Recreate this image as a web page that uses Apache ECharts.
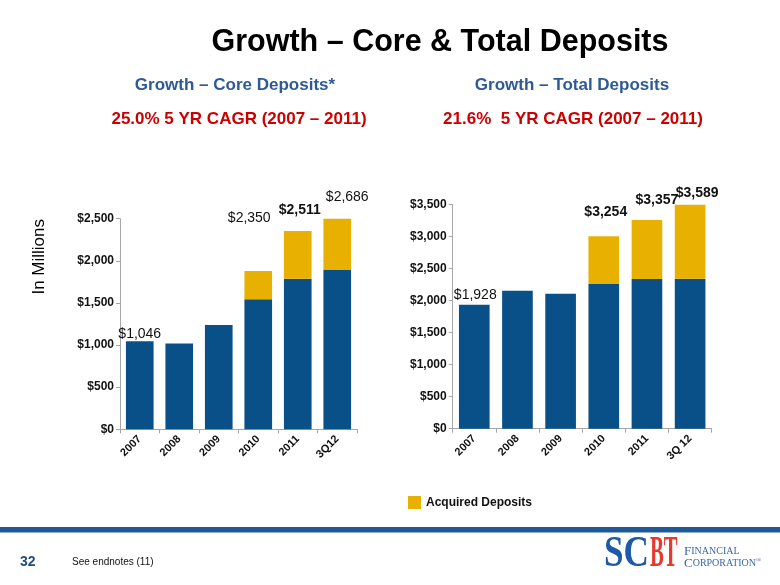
<!DOCTYPE html>
<html>
<head>
<meta charset="utf-8">
<script src="https://cdn.jsdelivr.net/npm/echarts@6/dist/echarts.min.js"></script>
<style>
html,body{margin:0;padding:0;background:#fff;}
#c{width:780px;height:585px;}
</style>
</head>
<body>
<div id="c"></div>
<script>
// ---- data ----
var coreCats = ['2007', '2008', '2009', '2010', '2011', '3Q12'];
var coreBase = [1046, 1020, 1238, 1543, 1788, 1891];
var coreAcquired = [0, 0, 0, 336, 566, 609];
var coreLabels = ['$1,046', '', '', '$2,350', '$2,511', '$2,686'];

var totalCats = ['2007', '2008', '2009', '2010', '2011', '3Q 12'];
var totalBase = [1937, 2156, 2109, 2261, 2339, 2344];
var totalAcquired = [0, 0, 0, 745, 922, 1156];
var totalLabels = ['$1,928', '', '', '$3,254', '$3,357', '$3,589'];

var coreTicks = [0, 500, 1000, 1500, 2000, 2500];
var totalTicks = [0, 500, 1000, 1500, 2000, 2500, 3000, 3500];

// ---- styles ----
var BLUE = '#0A5088', GOLD = '#E8B000';
var FONT = 'Liberation Sans, Arial, sans-serif';
var SERIF = 'Liberation Serif, serif';

function money(v){ return '$' + v.toLocaleString('en-US'); }

// label styles per bar: [dx, dy, bold]
var coreLblStyle = [[0, 0, false], null, null, [-9, -46, false], [2, -14, true], [10, -15, false]];
var totalLblStyle = [[1, -3, false], null, null, [2, -17, true], [10, -13, true], [7, -5, true]];

function buildItems(vals, labels, styles, onlyIfZeroAcq, acq) {
  return vals.map(function(v, i){
    var st = styles[i];
    var show = !!labels[i] && (onlyIfZeroAcq ? acq[i] === 0 : acq[i] > 0);
    var item = { value: v };
    if (show) {
      item.label = {
        show: true, position: 'top', distance: 0,
        offset: [st[0], st[1]],
        formatter: labels[i],
        fontSize: 14, fontFamily: FONT, color: '#111',
        fontWeight: st[2] ? 'bold' : 'normal'
      };
    }
    return item;
  });
}

function yAxis(gi, ticks) {
  return {
    type: 'value', gridIndex: gi, min: 0, max: ticks[ticks.length - 1], interval: 500,
    splitLine: { show: false },
    axisLine: { show: true, lineStyle: { color: '#A6A6A6' } },
    axisTick: { show: true, length: 4, lineStyle: { color: '#A6A6A6' } },
    axisLabel: { margin: 6, fontSize: 12, fontWeight: 'bold', color: '#111', fontFamily: FONT,
      formatter: function(v){ return money(v); } }
  };
}
function xAxis(gi, cats) {
  return {
    type: 'category', gridIndex: gi, data: cats,
    axisLine: { show: true, lineStyle: { color: '#A6A6A6' } },
    axisTick: { show: true, length: 4, alignWithLabel: false, lineStyle: { color: '#A6A6A6' } },
    axisLabel: { rotate: 45, margin: 8, fontSize: 11, fontWeight: 'bold', color: '#111', fontFamily: FONT, interval: 0 }
  };
}

var chart = echarts.init(document.getElementById('c'), null, { renderer: 'canvas' });
chart.setOption({
  animation: false,
  backgroundColor: '#fff',
  textStyle: { fontFamily: FONT },
  title: [
    { text: 'Growth – Core & Total Deposits', left: 435, top: 22, textAlign: 'center',
      textStyle: { fontSize: 30.5, fontWeight: 'bold', color: '#000', fontFamily: FONT } },
    { text: 'Growth – Core Deposits*', left: 230, top: 72, textAlign: 'center',
      textStyle: { fontSize: 17, fontWeight: 'bold', color: '#2E5A96', fontFamily: FONT } },
    { text: 'Growth – Total Deposits', left: 567, top: 72, textAlign: 'center',
      textStyle: { fontSize: 17, fontWeight: 'bold', color: '#2E5A96', fontFamily: FONT } },
    { text: '25.0% 5 YR CAGR (2007 – 2011)', left: 234, top: 106, textAlign: 'center',
      textStyle: { fontSize: 17, fontWeight: 'bold', color: '#CC0000', fontFamily: FONT } },
    { text: '21.6%  5 YR CAGR (2007 – 2011)', left: 568, top: 106, textAlign: 'center',
      textStyle: { fontSize: 17, fontWeight: 'bold', color: '#CC0000', fontFamily: FONT } }
  ],
  legend: {
    data: ['Acquired Deposits'], left: 403, top: 491, icon: 'rect', itemWidth: 13, itemHeight: 13, itemGap: 12,
    textStyle: { fontSize: 12, fontWeight: 'bold', color: '#111', fontFamily: FONT }, selectedMode: false
  },
  grid: [
    { left: 120, top: 218.7, width: 237, height: 210.6 },
    { left: 452.7, top: 204.7, width: 259, height: 224 }
  ],
  xAxis: [xAxis(0, coreCats), xAxis(1, totalCats)],
  yAxis: [yAxis(0, coreTicks), yAxis(1, totalTicks)],
  series: [
    { name: 'Core Deposits', type: 'bar', stack: 'a', xAxisIndex: 0, yAxisIndex: 0, barCategoryGap: '30%',
      itemStyle: { color: BLUE }, data: buildItems(coreBase, coreLabels, coreLblStyle, true, coreAcquired) },
    { name: 'Acquired Deposits', type: 'bar', stack: 'a', xAxisIndex: 0, yAxisIndex: 0, barCategoryGap: '30%',
      itemStyle: { color: GOLD }, data: buildItems(coreAcquired, coreLabels, coreLblStyle, false, coreAcquired) },
    { name: 'Total Base', type: 'bar', stack: 'b', xAxisIndex: 1, yAxisIndex: 1, barCategoryGap: '29%',
      itemStyle: { color: BLUE }, data: buildItems(totalBase, totalLabels, totalLblStyle, true, totalAcquired) },
    { name: 'Acquired Deposits', type: 'bar', stack: 'b', xAxisIndex: 1, yAxisIndex: 1, barCategoryGap: '29%',
      itemStyle: { color: GOLD }, data: buildItems(totalAcquired, totalLabels, totalLblStyle, false, totalAcquired) }
  ],
  graphic: [
    { type: 'text', left: 31, top: 219, rotation: Math.PI / 2, style: { text: 'In Millions', fontSize: 17, fill: '#000', fontFamily: FONT } },
    { type: 'rect', left: 0, top: 527, shape: { width: 780, height: 5 }, style: { fill: '#1F5A96' } },
    { type: 'rect', left: 0, top: 532, shape: { width: 780, height: 1 }, style: { fill: '#8FB0D3' } },
    { type: 'text', left: 20, top: 555, style: { text: '32', fontSize: 14, fontWeight: 'bold', fill: '#1F4E79', fontFamily: FONT } },
    { type: 'text', left: 72, top: 557, style: { text: 'See endnotes (11)', fontSize: 10, fill: '#111', fontFamily: FONT } },
    { type: 'text', x: 604, y: 533, scaleX: 0.8, style: { text: 'SC', fontSize: 44, fontWeight: 'bold', fill: '#1F5AA6', fontFamily: SERIF } },
    { type: 'text', x: 650, y: 533, scaleX: 0.47, style: { text: 'BT', fontSize: 44, fontWeight: 'bold', fill: '#E8392E', fontFamily: SERIF } },
    { type: 'text', x: 684, y: 545, style: { rich: { a: { fontSize: 13, fontFamily: SERIF, fill: '#3A68A6' }, b: { fontSize: 10, fontFamily: SERIF, fill: '#3A68A6' } },
      text: '{a|F}{b|INANCIAL}' } },
    { type: 'text', x: 684, y: 557, style: { rich: { a: { fontSize: 13, fontFamily: SERIF, fill: '#3A68A6' }, b: { fontSize: 10, fontFamily: SERIF, fill: '#3A68A6' }, c: { fontSize: 7, fontFamily: SERIF, fill: '#3A68A6', verticalAlign: 'top' } },
      text: '{a|C}{b|ORPORATION}{c|®}' } }
  ]
});
</script>
</body>
</html>
